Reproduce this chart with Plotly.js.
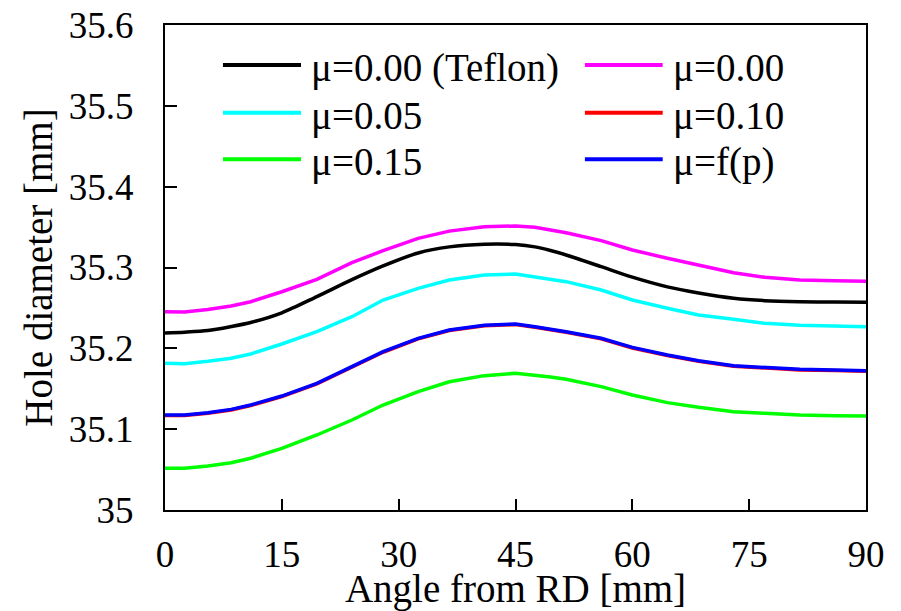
<!DOCTYPE html>
<html>
<head>
<meta charset="utf-8">
<script src="https://cdn.plot.ly/plotly-3.0.1.min.js"></script>
<style>
html,body{margin:0;padding:0;background:#fff;}
#chart{width:901px;height:611px;}
</style>
</head>
<body>
<div id="chart"></div>
<script>
const angles = [0, 2.5, 5.5, 8.5, 11, 15, 19.5, 24, 28, 32.5, 36.5, 41, 45, 47.5, 49.5, 51.5, 56, 60, 64.5, 68.5, 73, 77, 81.5, 86, 90];

const teflon  = [35.219, 35.220, 35.222, 35.227, 35.232, 35.244, 35.264, 35.285, 35.302, 35.318, 35.3255, 35.3287, 35.3283, 35.3255, 35.321, 35.3155, 35.301, 35.288, 35.276, 35.2685, 35.262, 35.259, 35.2577, 35.2573, 35.257];
const mu000   = [35.2453, 35.245, 35.248, 35.2524, 35.2577, 35.270, 35.2854, 35.306, 35.3208, 35.336, 35.345, 35.3505, 35.3514, 35.3497, 35.3465, 35.343, 35.3332, 35.3217, 35.3114, 35.3031, 35.2936, 35.2879, 35.2845, 35.2837, 35.2829];
const mu005   = [35.1815, 35.181, 35.184, 35.1877, 35.193, 35.2054, 35.2206, 35.2391, 35.2598, 35.2742, 35.2845, 35.2907, 35.292, 35.2887, 35.2858, 35.2825, 35.2722, 35.2598, 35.2495, 35.2412, 35.2359, 35.231, 35.2285, 35.2276, 35.2268];
const mu010   = [35.1168, 35.1170, 35.1198, 35.1238, 35.1292, 35.1403, 35.1560, 35.1766, 35.1951, 35.2117, 35.2220, 35.2278, 35.2294, 35.2261, 35.2232, 35.2199, 35.2117, 35.2005, 35.1911, 35.1840, 35.1778, 35.1754, 35.1733, 35.1725, 35.1717];
const mu015   = [35.0516, 35.0516, 35.0544, 35.0585, 35.064, 35.0763, 35.0928, 35.1113, 35.1299, 35.1464, 35.1587, 35.1662, 35.1691, 35.167, 35.1645, 35.1617, 35.1526, 35.1423, 35.1328, 35.127, 35.1216, 35.1196, 35.1175, 35.1167, 35.1163];
const mufp    = [35.1175, 35.1175, 35.1204, 35.1245, 35.1299, 35.141, 35.1567, 35.1773, 35.1958, 35.2124, 35.2227, 35.2285, 35.2301, 35.2268, 35.2238, 35.2206, 35.2124, 35.2012, 35.1918, 35.1847, 35.1785, 35.1761, 35.174, 35.1732, 35.1724];

const names  = ['\u03bc=0.00 (Teflon)', '\u03bc=0.00', '\u03bc=0.05', '\u03bc=0.10', '\u03bc=0.15', '\u03bc=f(p)'];
const colors = ['#000000', '#ff00ff', '#00ffff', '#ff0000', '#00ff00', '#0000ff'];
const series = [teflon, mu000, mu005, mu010, mu015, mufp];

const xTicks = [0, 15, 30, 45, 60, 75, 90];
const yTicks = [35, 35.1, 35.2, 35.3, 35.4, 35.5, 35.6];
const yTickText = ['35', '35.1', '35.2', '35.3', '35.4', '35.5', '35.6'];

const FONT = 'Liberation Serif, Times New Roman, serif';

const traces = series.map((ys, i) => ({
  x: angles, y: ys, type: 'scatter', mode: 'lines', name: names[i],
  line: {color: colors[i], width: 3.5, shape: i === 0 ? 'spline' : 'linear', smoothing: 0.8},
  showlegend: false
}));

// Legend drawn in paper coordinates: two columns, three rows
const legColLine = [[0.0827, 0.194], [0.599, 0.710]];
const legColText = [0.205, 0.722];
const legRowY = [0.9175, 0.8192, 0.7231];
const legShapes = [], legAnn = [];
names.forEach((nm, i) => {
  const c = i % 2, r = Math.floor(i / 2);
  legShapes.push({type: 'line', xref: 'paper', yref: 'paper',
    x0: legColLine[c][0], x1: legColLine[c][1], y0: legRowY[r], y1: legRowY[r],
    line: {color: colors[i], width: 4}});
  legAnn.push({xref: 'paper', yref: 'paper', x: legColText[c], y: legRowY[r],
    xanchor: 'left', yanchor: 'middle', yshift: -3, showarrow: false, text: nm,
    font: {family: FONT, size: 39, color: '#000'}});
});

const layout = {
  width: 901, height: 611,
  margin: {l: 165, r: 35, t: 25, b: 101, pad: 0},
  paper_bgcolor: '#fff', plot_bgcolor: '#fff',
  font: {family: FONT, color: '#000', size: 37},
  showlegend: false,
  shapes: legShapes,
  annotations: legAnn,
  xaxis: {
    range: [0, 90], tickvals: xTicks, ticktext: xTicks.map(String),
    ticks: 'inside', ticklen: 11, tickwidth: 2, tickcolor: '#000',
    showline: true, linewidth: 2, linecolor: '#000', mirror: true,
    showgrid: false, zeroline: false,
    tickfont: {family: FONT, size: 37, color: '#000'},
    ticklabelstandoff: 11,
    title: {text: 'Angle from RD [mm]', font: {family: FONT, size: 39, color: '#000'}, standoff: 0}
  },
  yaxis: {
    range: [35, 35.6], tickvals: yTicks, ticktext: yTickText,
    ticks: 'inside', ticklen: 12, tickwidth: 2, tickcolor: '#000',
    showline: true, linewidth: 2, linecolor: '#000', mirror: true,
    showgrid: false, zeroline: false,
    tickfont: {family: FONT, size: 37, color: '#000'},
    ticklabelstandoff: 22,
    title: {text: 'Hole diameter [mm]', font: {family: FONT, size: 39, color: '#000'}, standoff: 4}
  }
};

Plotly.newPlot('chart', traces, layout, {displayModeBar: false, staticPlot: true});
</script>
</body>
</html>
